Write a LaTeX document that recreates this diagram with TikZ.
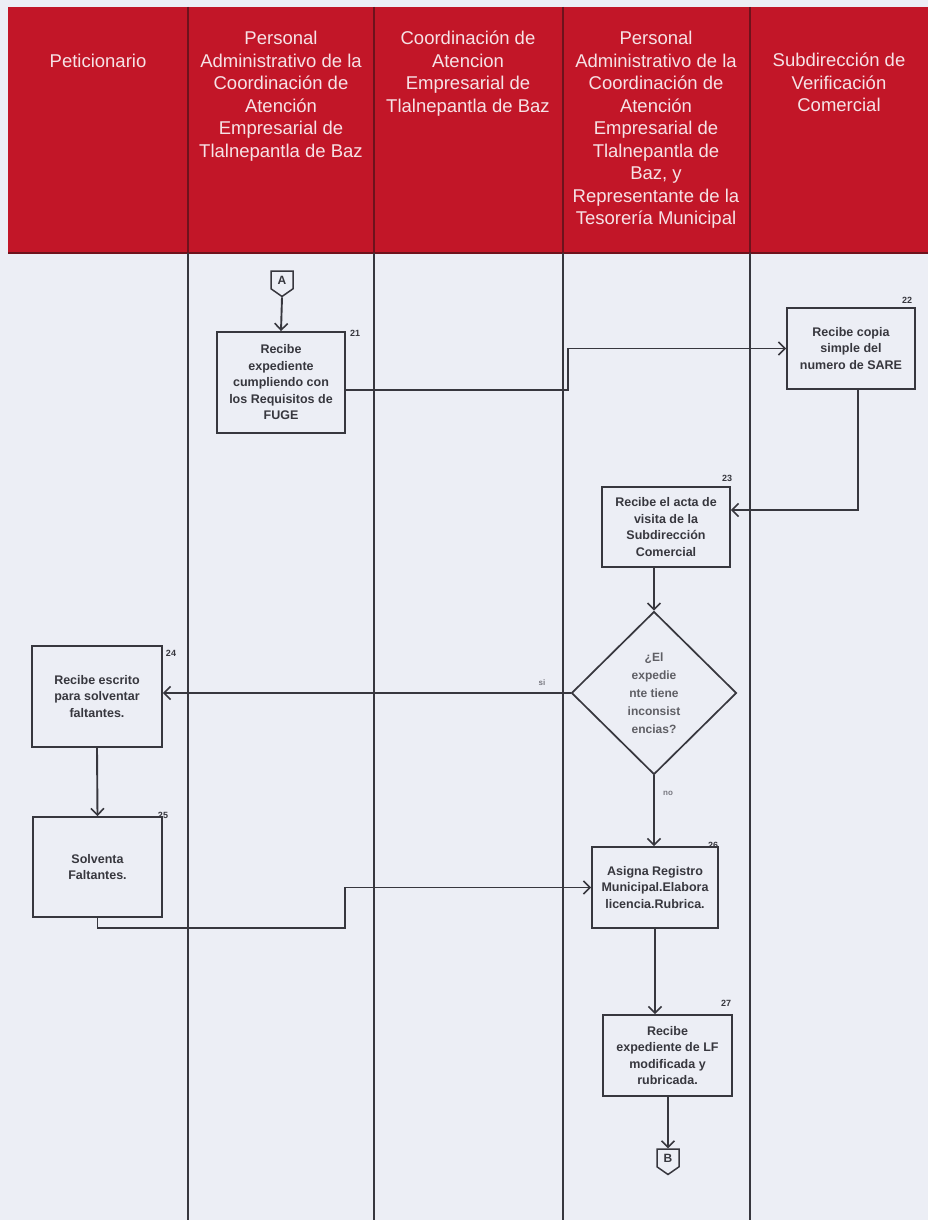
\documentclass[tikz,border=0pt]{standalone}
\usepackage{fontspec}
\setmainfont{Liberation Sans}
\usetikzlibrary{arrows.meta,shapes.geometric,shapes.symbols}

\definecolor{hdrred}{RGB}{194,22,40}
\definecolor{hdrline}{RGB}{110,18,28}
\definecolor{paper}{RGB}{236,238,245}
\definecolor{ink}{RGB}{55,55,62}
\definecolor{hdrtext}{RGB}{246,226,230}
\definecolor{faint}{RGB}{120,120,128}

\begin{document}
\begin{tikzpicture}[x=1pt,y=-1pt,
  lane/.style={draw=ink, line width=1.8pt},
  hdr/.style={text=hdrtext, font=\fontsize{18.5}{22.5}\selectfont, align=center, anchor=north, inner sep=0pt},
  stepbox/.style={draw=ink, line width=1.9pt, fill=paper, font=\fontsize{12.5}{16.5}\selectfont\bfseries, text=ink, align=center, inner sep=0pt},
  decision/.style={diamond, draw=ink, line width=1.7pt, fill=paper, font=\fontsize{12}{18}\selectfont\bfseries, text=ink!80, align=center, inner sep=0pt, minimum width=165pt, minimum height=163pt},
  offpage/.style={signal, signal to=south, signal pointer angle=110, draw=ink, line width=1.5pt, fill=paper, font=\fontsize{12}{12}\selectfont\bfseries, text=ink, inner sep=2pt, minimum width=22pt, minimum height=22pt},
  stepno/.style={font=\fontsize{9}{9}\selectfont\bfseries, text=ink, inner sep=0pt},
  branch/.style={font=\fontsize{8}{8}\selectfont\bfseries, text=faint, inner sep=0pt},
  flow/.style={draw=ink, line width=1.9pt, -{Straight Barb[length=6.5pt,width=13pt,line width=1.6pt]}}
]
\useasboundingbox (0,0) rectangle (928,1220);
\fill[paper] (0,0) rectangle (928,1220);

% header band
\fill[hdrred] (8,7) rectangle (928,253);
\draw[hdrline, line width=1.2pt] (8,253) -- (928,253);
\foreach \x in {188,374,563,750}
  \draw[hdrline, line width=1.2pt] (\x,7) -- (\x,253);

% lane separators
\foreach \x in {188,374,563,750}
  \draw[lane] (\x,253) -- (\x,1220);

% lane titles
\node[hdr] (h1) at (98,54) {Peticionario};
\node[hdr] (h2) at (281,31) {Personal\\Administrativo de la\\Coordinación de\\Atención\\Empresarial de\\Tlalnepantla de Baz};
\node[hdr] (h3) at (468,31) {Coordinación de\\Atencion\\Empresarial de\\Tlalnepantla de Baz};
\node[hdr] (h4) at (656,31) {Personal\\Administrativo de la\\Coordinación de\\Atención\\Empresarial de\\Tlalnepantla de\\Baz, y\\Representante de la\\Tesorería Municipal};
\node[hdr] (h5) at (839,53) {Subdirección de\\Verificación\\Comercial};

% steps
\node[offpage] (A) at (282,280) {A};
\node[stepbox, minimum width=128pt, minimum height=101pt] (s21) at (281,382.5) {Recibe\\expediente\\cumpliendo con\\los Requisitos de\\FUGE};
\node[stepbox, minimum width=128pt, minimum height=81pt] (s22) at (851,348.5) {Recibe copia\\simple del\\numero de SARE};
\node[stepbox, minimum width=128pt, minimum height=80pt] (s23) at (666,527) {Recibe el acta de\\visita de la\\Subdirección\\Comercial};
\node[decision] (d) at (654,693) {¿El\\expedie\\nte tiene\\inconsist\\encias?};
\node[stepbox, minimum width=130pt, minimum height=101pt] (s24) at (97,696.5) {Recibe escrito\\para solventar\\faltantes.};
\node[stepbox, minimum width=129pt, minimum height=100pt] (s25) at (97.5,867) {Solventa\\Faltantes.};
\node[stepbox, minimum width=126pt, minimum height=81pt] (s26) at (655,887.5) {Asigna Registro\\Municipal.Elabora\\licencia.Rubrica.};
\node[stepbox, minimum width=129pt, minimum height=81pt] (s27) at (667.5,1055.5) {Recibe\\expediente de LF\\modificada y\\rubricada.};
\node[offpage] (B) at (668,1158) {B};

% step numbers
\node[stepno] (n21) at (355,333) {21};
\node[stepno] (n22) at (907,300) {22};
\node[stepno] (n23) at (727,478) {23};
\node[stepno] (n24) at (171,653) {24};
\node[stepno] (n25) at (163,815) {25};
\node[stepno] (n26) at (713,845) {26};
\node[stepno] (n27) at (726,1003) {27};

% branch labels
\node[branch] (si) at (542,683) {si};
\node[branch] (no) at (668,793) {no};

% connectors
\draw[flow] (A.south) -- (s21.north);
\coordinate (j1) at (568,390);
\draw[flow] (s21.east |- j1) -- (j1) -- (j1 |- s22.west) -- (s22.west);
\coordinate (j2) at (858,510);
\draw[flow] (j2 |- s22.south) -- (j2) -- (j2 -| s23.east);
\draw[flow] (d.north |- s23.south) -- (d.north);
\draw[flow] (d.west) -- (d.west -| s24.east);
\draw[flow] (s24.south) -- (s25.north);
\draw[flow] (d.south) -- (d.south |- s26.north);
\coordinate (j3) at (345,928);
\draw[flow] (s25.south) -- (s25.south |- j3) -- (j3) -- (j3 |- s26.west) -- (s26.west);
\draw[flow] (s26.south) -- (s26.south |- s27.north);
\draw[flow] (s27.south -| B.north) -- (B.north);
\end{tikzpicture}
\end{document}
